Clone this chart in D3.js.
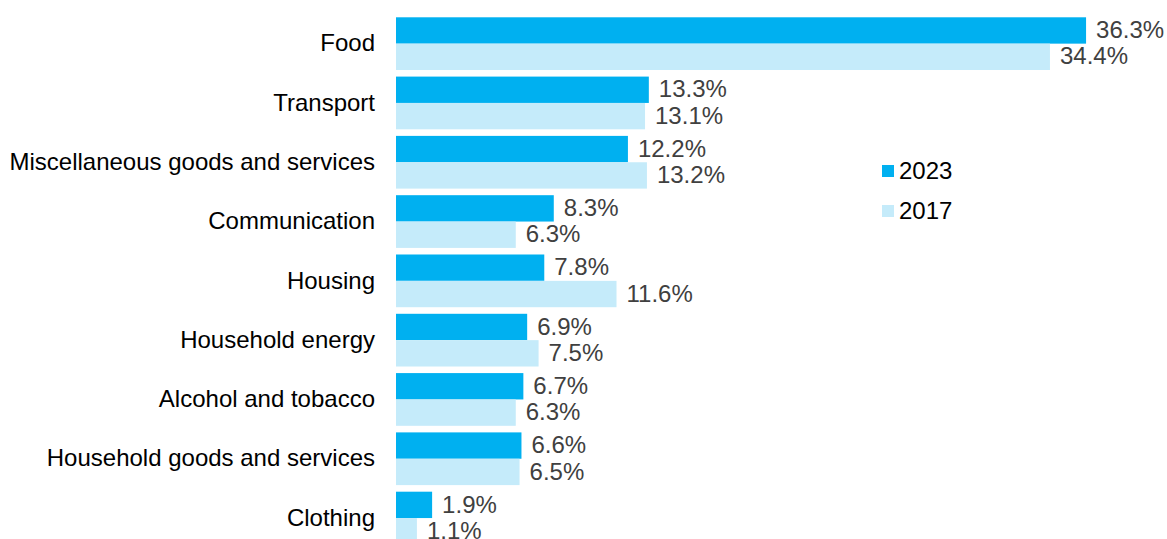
<!DOCTYPE html>
<html>
<head>
<meta charset="utf-8">
<script src="https://cdn.jsdelivr.net/npm/d3@7"></script>
<style>
  html, body { margin: 0; padding: 0; background: #fff; }
  svg { display: block; font-family: "Liberation Sans", Arial, sans-serif; }
</style>
</head>
<body>
<svg id="chart" width="1167" height="539"></svg>
<script>
// Share of household spending by category (%)
const categories = [
  "Food",
  "Transport",
  "Miscellaneous goods and services",
  "Communication",
  "Housing",
  "Household energy",
  "Alcohol and tobacco",
  "Household goods and services",
  "Clothing"
];
const series = ["2023", "2017"];
const values2023 = [36.3, 13.3, 12.2, 8.3, 7.8, 6.9, 6.7, 6.6, 1.9];
const values2017 = [34.4, 13.1, 13.2, 6.3, 11.6, 7.5, 6.3, 6.5, 1.1];
const colors = ["#00B0F0", "#C5EBFA"];

const rows = categories.map((c, i) => ({
  category: c,
  values: [
    { key: series[0], value: values2023[i] },
    { key: series[1], value: values2017[i] }
  ]
}));

const FONT = 24;
const svg = d3.select("#chart");

const x = d3.scaleLinear().domain([0, 40]).range([396, 396 + 40 * 19.01]);

const y = d3.scaleBand()
  .domain(categories)
  .range([14, 14 + 9 * 59.3])
  .paddingInner(0.111)
  .paddingOuter(0.0555);

const ySub = d3.scaleBand()
  .domain(series)
  .range([0, y.bandwidth()]);

const color = d3.scaleOrdinal().domain(series).range(colors);

// Category axis on the left, no line or ticks
const yAxis = d3.axisLeft(y).tickSize(0).tickPadding(0);
const gAxis = svg.append("g")
  .attr("transform", `translate(${x(0) - 21},0)`)
  .call(yAxis);
gAxis.select(".domain").remove();
gAxis.selectAll("text")
  .attr("font-family", "Liberation Sans, Arial, sans-serif")
  .attr("font-size", FONT)
  .attr("fill", "#000");

// Bars
const groups = svg.append("g")
  .selectAll("g")
  .data(rows)
  .join("g")
  .attr("transform", d => `translate(0,${y(d.category)})`);

groups.selectAll("rect")
  .data(d => d.values)
  .join("rect")
  .attr("x", x(0))
  .attr("y", d => ySub(d.key))
  .attr("width", d => x(d.value) - x(0))
  .attr("height", ySub.bandwidth())
  .attr("fill", d => color(d.key));

// Value labels
groups.selectAll("text")
  .data(d => d.values)
  .join("text")
  .attr("x", d => x(d.value) + 10)
  .attr("y", d => ySub(d.key) + ySub.bandwidth() / 2)
  .attr("dy", "0.32em")
  .attr("font-size", FONT)
  .attr("fill", "#404040")
  .text(d => d.value.toFixed(1) + "%");

// Legend
const legend = svg.append("g")
  .selectAll("g")
  .data(series)
  .join("g")
  .attr("transform", (d, i) => `translate(882,${171 + i * 40})`);

legend.append("rect")
  .attr("x", 0)
  .attr("y", -6)
  .attr("width", 12)
  .attr("height", 12)
  .attr("fill", d => color(d));

legend.append("text")
  .attr("x", 17)
  .attr("y", 0)
  .attr("dy", "0.35em")
  .attr("font-size", FONT)
  .attr("fill", "#000")
  .text(d => d);
</script>
</body>
</html>
